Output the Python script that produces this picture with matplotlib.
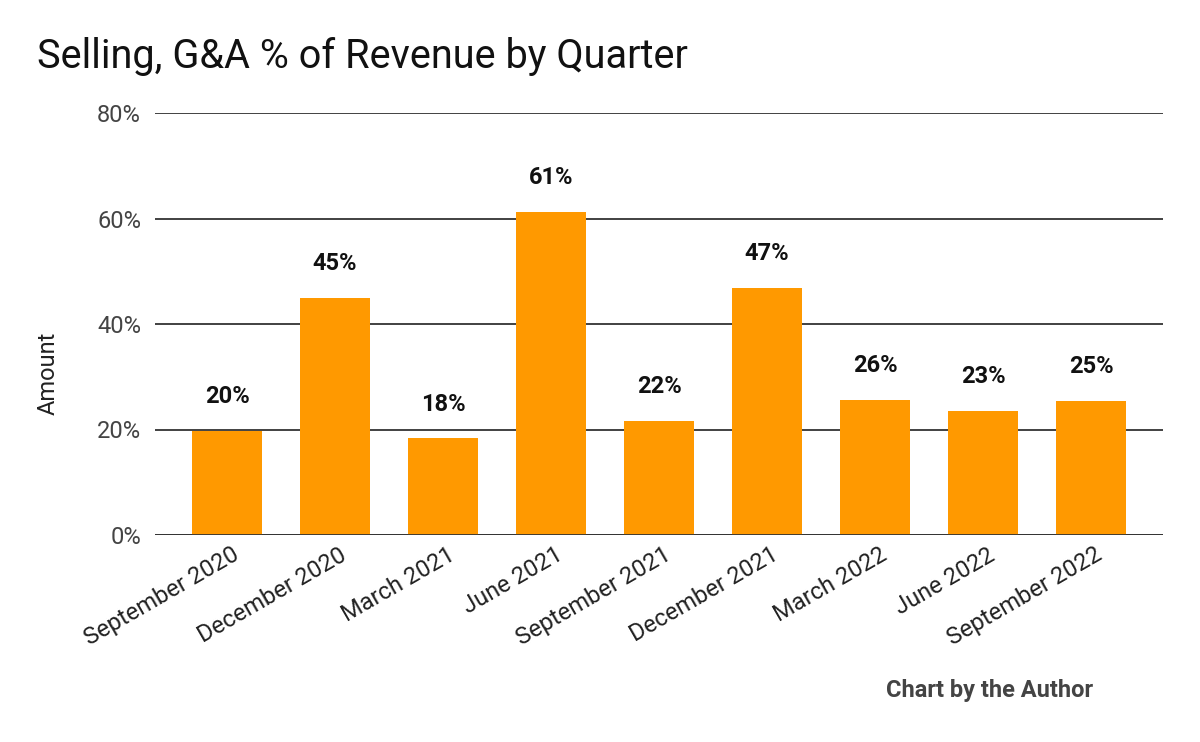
import matplotlib
matplotlib.use("Agg")
import matplotlib.pyplot as plt
from matplotlib.ticker import FuncFormatter
from matplotlib.transforms import ScaledTranslation

quarters = ["September 2020", "December 2020", "March 2021", "June 2021",
            "September 2021", "December 2021", "March 2022", "June 2022",
            "September 2022"]
values = [19.8, 44.9, 18.3, 61.2, 21.7, 46.8, 25.6, 23.6, 25.4]
labels = ["20%", "45%", "18%", "61%", "22%", "47%", "26%", "23%", "25%"]
yticks = [0, 20, 40, 60, 80]

plt.rcParams['font.family'] = ['Roboto', 'DejaVu Sans']

fig = plt.figure(figsize=(12, 7.42), dpi=100)
ax = fig.add_axes([155/1200, 1-535/742, (1163-155)/1200, (535-113)/742])

x = list(range(len(quarters)))
bars = ax.bar(x, values, width=0.648, color="#FF9900", zorder=3)

for xi, v, lab in zip(x, values, labels):
    ax.annotate(lab, (xi, v), xytext=(0, 16.5), textcoords="offset points",
                ha="center", va="bottom", fontsize=17, fontweight="bold",
                color="#111111")

ax.set_xlim(-0.667, len(quarters) - 1 + 0.667)
ax.set_ylim(0, 80)
ax.set_yticks(yticks)
ax.yaxis.set_major_formatter(FuncFormatter(lambda v, p: f"{int(v)}%"))
ax.grid(axis="y", color="#333333", linewidth=1.3, zorder=0)
ax.axhline(0, color="#333333", linewidth=2, zorder=4)
for s in ax.spines.values():
    s.set_visible(False)
ax.tick_params(axis="both", length=0, labelsize=17, colors="#222222")
ax.tick_params(axis="y", pad=10, labelcolor="#444444")
ax.set_xticks(x)
ax.set_xticklabels(quarters, rotation=30, ha="right", rotation_mode="anchor")
ax.tick_params(axis="x", pad=6)
shift = ScaledTranslation(4/100, 0, fig.dpi_scale_trans)
for t in ax.get_xticklabels():
    t.set_transform(t.get_transform() + shift)

fig.text(37/1200, 1-57/742, "Selling, G&A % of Revenue by Quarter",
         fontsize=28.5, color="#111111", ha="left", va="center")
fig.text(48/1200, 1-373/742, "Amount", rotation=90, fontsize=17,
         color="#222222", ha="center", va="center")
fig.text(990/1200, 1-691/742, "Chart by the Author", fontsize=17,
         fontweight="bold", color="#444444", ha="center", va="center")

fig.savefig("out.png", dpi=100, facecolor="white")
